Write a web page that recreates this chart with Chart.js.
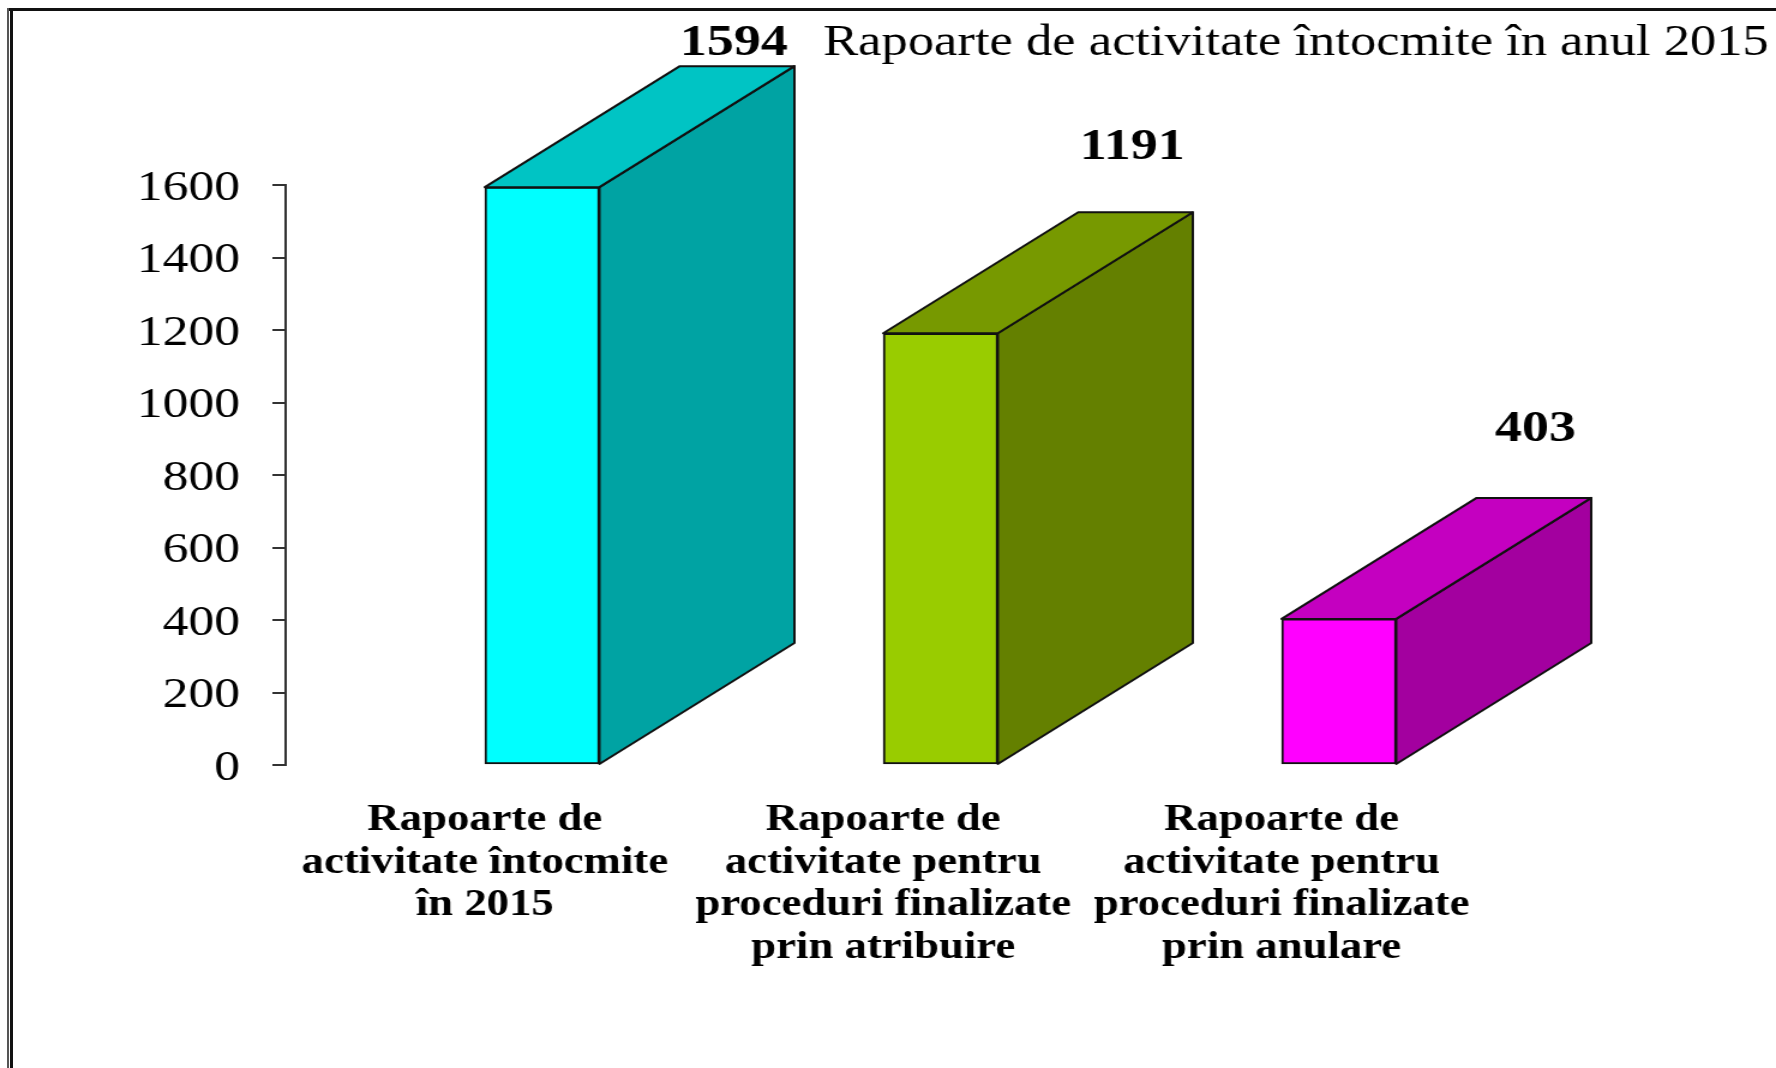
<!DOCTYPE html>
<html>
<head>
<meta charset="utf-8">
<script src="https://cdn.jsdelivr.net/npm/chart.js@4"></script>
<style>
  html, body { margin: 0; padding: 0; background: #fff; overflow: hidden; }
  /* the reference is stretched sideways, so the whole chart is drawn narrow and scaled */
  #wrap { position: absolute; left: 0; top: 0; width: 1480px; height: 1068px; transform: scaleX(1.2); transform-origin: 0 0; }
  #frameTop { position: absolute; left: 7px; right: 0; top: 8px; height: 3px; background: #111; }
  #frameLeftA { position: absolute; left: 7px; top: 8px; bottom: 0; width: 2px; background: #555; }
  #frameLeftB { position: absolute; left: 10px; top: 8px; bottom: 0; width: 3px; background: #111; }
</style>
</head>
<body>
<div id="wrap"><canvas id="chart" width="1480" height="1068"></canvas></div>
<div id="frameTop"></div>
<div id="frameLeftA"></div>
<div id="frameLeftB"></div>
<script>
const categories = [
  ['Rapoarte de', 'activitate întocmite', 'în 2015'],
  ['Rapoarte de', 'activitate pentru', 'proceduri finalizate', 'prin atribuire'],
  ['Rapoarte de', 'activitate pentru', 'proceduri finalizate', 'prin anulare']
];
const values = [1594, 1191, 403];
const spacer = [null, null, null];
const titleText = 'Rapoarte de activitate întocmite în anul 2015';

const frontColors = ['#00ffff', '#99cc00', '#ff00ff'];
const sideColors = ['#00a3a3', '#648000', '#a3009f'];
const topColors = ['#00c4c4', '#779900', '#c400c0'];

const labelDx = [207.6, 207.6, 211.6];
const labelRise = [144, 186, 190];
const depthX = 162.5;
const depthY = 121;
const edge = '#111';

// side and top faces of the boxes, plus the value labels and the title
const boxes = {
  id: 'boxes',
  afterDatasetsDraw(chart) {
    const ctx = chart.ctx;
    const bars = chart.getDatasetMeta(1).data;
    ctx.save();
    ctx.lineWidth = 2;
    ctx.strokeStyle = edge;
    ctx.lineJoin = 'round';
    bars.forEach((bar, i) => {
      const left = bar.x - bar.width / 2;
      const right = bar.x + bar.width / 2;
      const top = bar.y;
      const bottom = bar.base;

      ctx.fillStyle = sideColors[i];
      ctx.beginPath();
      ctx.moveTo(right, top);
      ctx.lineTo(right + depthX, top - depthY);
      ctx.lineTo(right + depthX, bottom - depthY);
      ctx.lineTo(right, bottom);
      ctx.closePath();
      ctx.fill();
      ctx.stroke();

      ctx.fillStyle = topColors[i];
      ctx.beginPath();
      ctx.moveTo(left, top);
      ctx.lineTo(left + depthX, top - depthY);
      ctx.lineTo(right + depthX, top - depthY);
      ctx.lineTo(right, top);
      ctx.closePath();
      ctx.fill();
      ctx.stroke();

      ctx.fillStyle = '#000';
      ctx.font = 'bold 45px "Liberation Serif"';
      ctx.textAlign = 'center';
      ctx.textBaseline = 'middle';
      ctx.fillText(String(values[i]), left + labelDx[i], top - labelRise[i]);
    });

    ctx.fillStyle = '#000';
    ctx.font = '43.8px "Liberation Serif"';
    ctx.textAlign = 'right';
    ctx.textBaseline = 'middle';
    ctx.fillText(titleText, 1474, 43);
    ctx.restore();
  }
};

new Chart(document.getElementById('chart'), {
  type: 'bar',
  data: {
    labels: categories,
    datasets: [
      // empty first series, pushes the real bars to the right of the category centre
      { data: spacer, barThickness: 95.5 },
      {
        data: values,
        backgroundColor: frontColors,
        borderColor: edge,
        borderWidth: 2,
        borderSkipped: false,
        barThickness: 95.5
      }
    ]
  },
  options: {
    responsive: false,
    animation: false,
    layout: { padding: { top: 185, right: 246, bottom: 0, left: 0 } },
    plugins: { legend: { display: false }, tooltip: { enabled: false } },
    scales: {
      x: {
        afterFit(scale) { scale.height = 303; },
        grid: { display: false },
        border: { display: false },
        ticks: {
          autoSkip: false,
          maxRotation: 0,
          minRotation: 0,
          padding: 26,
          color: '#000',
          font: { family: '"Liberation Serif"', size: 37.3, weight: 'bold', lineHeight: 1.145 }
        }
      },
      y: {
        min: 0,
        max: 1600,
        afterFit(scale) { scale.width = 238; },
        grid: { drawOnChartArea: false, drawTicks: true, tickLength: 11, color: '#333', lineWidth: 2 },
        border: { color: '#333', width: 2 },
        ticks: {
          stepSize: 200,
          padding: 27,
          color: '#000',
          font: { family: '"Liberation Serif"', size: 43, lineHeight: 0.16 },
          // blank first line + tiny line height nudges the number down onto its tick
          callback: value => ['', String(value)]
        }
      }
    }
  },
  plugins: [boxes]
});
</script>
</body>
</html>
